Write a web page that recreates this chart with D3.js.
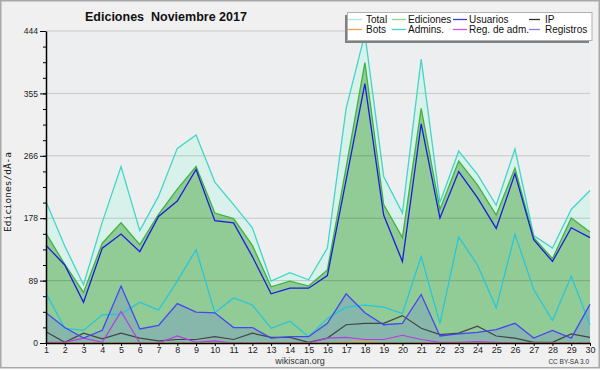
<!DOCTYPE html>
<html>
<head>
<meta charset="utf-8">
<script src="https://cdn.jsdelivr.net/npm/d3@7"></script>
<style>
  body { margin: 0; background: #fff; }
  svg { display: block; font-family: "Liberation Sans", Arial, sans-serif; }
</style>
</head>
<body>
<div id="chart"></div>
<script>
const days = d3.range(1, 31);
const total = [201, 138, 83, 172, 251, 160, 209, 277, 296, 229, 197, 164, 88, 100, 90, 135, 334, 440, 237, 185, 404, 200, 273, 240, 196, 276, 153, 135, 190, 217];
const ediciones = [156, 112, 72, 142, 171, 140, 183, 219, 251, 185, 177, 139, 80, 88, 81, 104, 250, 399, 197, 150, 334, 190, 259, 225, 182, 249, 150, 120, 178, 158];
const usuarios = [139, 111, 58, 135, 155, 130, 180, 202, 247, 174, 171, 123, 70, 78, 78, 96, 232, 369, 182, 116, 312, 178, 244, 207, 163, 241, 147, 116, 164, 150];
const ip = [16, 1, 14, 6, 14, 7, 3, 5, 5, 9, 5, 14, 8, 8, 1, 7, 26, 28, 28, 39, 21, 12, 14, 24, 10, 7, 1, 1, 13, 8];
const bots = [0, 0, 0, 0, 0, 0, 0, 0, 0, 0, 0, 0, 0, 0, 0, 0, 1, 2, 0, 0, 0, 0, 0, 0, 0, 0, 0, 0, 0, 0];
const admins = [71, 21, 18, 40, 41, 58, 47, 88, 133, 43, 64, 54, 21, 31, 9, 35, 51, 54, 51, 42, 123, 28, 151, 111, 50, 155, 76, 32, 95, 26];
const regAdm = [1, 1, 7, 1, 45, 0, 0, 10, 1, 3, 0, 0, 0, 0, 0, 7, 8, 5, 5, 11, 5, 1, 1, 2, 1, 0, 0, 0, 0, 0];
const registros = [43, 22, 7, 18, 81, 20, 25, 56, 44, 43, 22, 22, 7, 9, 9, 28, 70, 43, 26, 28, 69, 10, 13, 15, 19, 28, 7, 18, 7, 55];

const legendNames = ["Total", "Ediciones", "Usuarios", "IP", "Bots", "Admins.", "Reg. de adm.", "Registros"];
const legendColors = ["#a8e8e0", "#90d890", "#3a3ae0", "#303030", "#f0a040", "#40d0e0", "#d050e8", "#8080f0"];

const W = 600, H = 370;
const svg = d3.select("#chart").append("svg")
  .attr("width", W)
  .attr("height", H);

// frame
svg.append("rect")
  .attr("x", 0.75).attr("y", 0.75)
  .attr("width", W - 1.5).attr("height", 367)
  .attr("fill", "#f0f0f0")
  .attr("stroke", "#a8a8a8")
  .attr("stroke-width", 1.5);

const x = d3.scaleLinear().domain([1, 30]).range([46, 590]);
const y = d3.scaleLinear().domain([0, 444]).range([343, 31]);

// plot background
svg.append("rect")
  .attr("x", x(1)).attr("y", y(444))
  .attr("width", x(30) - x(1)).attr("height", y(0) - y(444))
  .attr("fill", "#edeef0");

const area = vals => d3.area()
  .x((d, i) => x(days[i]))
  .y0(y(0))
  .y1(d => y(d))(vals);
const line = vals => d3.line()
  .x((d, i) => x(days[i]))
  .y(d => y(d))(vals);

svg.append("path").attr("d", area(total)).attr("fill", "#d8f1ea");
svg.append("path").attr("d", area(ediciones)).attr("fill", "#91cb95");
svg.append("path").attr("d", area(registros)).attr("fill", "rgba(110,140,220,0.3)");

// grid lines
const majors = d3.range(0, 6).map(i => i * 444 / 5);
const minors = d3.range(0, 21).map(i => i * 444 / 20);
svg.append("g")
  .selectAll("line")
  .data(majors.slice(1))
  .join("line")
  .attr("x1", x(1)).attr("x2", x(30))
  .attr("y1", d => y(d)).attr("y2", d => y(d))
  .attr("stroke", "rgba(0,0,0,0.16)")
  .attr("stroke-width", 1);

const series = [
  [total, "#42d6c6", 1.3],
  [ediciones, "#3fb43f", 1.3],
  [admins, "#22c6e0", 1.2],
  [usuarios, "#1c1ce0", 1.3],
  [ip, "#454545", 1.2],
  [regAdm, "#b83ce0", 1.2],
  [registros, "#4646f2", 1.3],
  [bots, "#f0a030", 1.2]
];
series.forEach(([vals, color, w]) => {
  svg.append("path")
    .attr("d", line(vals))
    .attr("fill", "none")
    .attr("stroke", color)
    .attr("stroke-width", w)
    .attr("stroke-linejoin", "miter");
});

// y axis
svg.append("g")
  .attr("transform", `translate(${x(1)},0)`)
  .call(d3.axisLeft(y).tickValues(minors).tickSize(3).tickFormat(""))
  .call(g => g.select(".domain").remove())
  .call(g => g.selectAll(".tick line").attr("stroke", "#000"));

svg.append("g")
  .attr("transform", `translate(${x(1)},0)`)
  .call(d3.axisLeft(y).tickValues(majors).tickSize(6).tickSizeOuter(0).tickPadding(2)
    .tickFormat(d => Math.round(d)))
  .call(g => g.select(".domain").attr("stroke", "#000").attr("stroke-width", 1.5))
  .call(g => g.selectAll("text").attr("font-size", 8.5).attr("fill", "#222")
    .attr("font-family", "'Liberation Sans', Arial, sans-serif"));

// x axis
svg.append("g")
  .attr("transform", `translate(0,${y(0)})`)
  .call(d3.axisBottom(x).tickValues(days).tickSize(3).tickSizeOuter(0).tickPadding(1)
    .tickFormat(d => d))
  .call(g => g.select(".domain").attr("stroke", "#000").attr("stroke-width", 1.5))
  .call(g => g.selectAll("text").attr("font-size", 9).attr("fill", "#222")
    .attr("font-family", "'Liberation Sans', Arial, sans-serif"));

// title
svg.append("text")
  .attr("x", 85).attr("y", 21)
  .attr("font-size", 12.5)
  .attr("font-weight", "bold")
  .attr("fill", "#111")
  .style("white-space", "pre")
  .text("Ediciones  Noviembre 2017");

// y label
svg.append("text")
  .attr("transform", "translate(11,192) rotate(-90)")
  .attr("text-anchor", "middle")
  .attr("font-family", "'DejaVu Sans Mono', monospace")
  .attr("font-size", 9.5)
  .attr("fill", "#111")
  .text("Ediciones/dÃ-a");

svg.append("text")
  .attr("x", 300).attr("y", 364)
  .attr("text-anchor", "middle")
  .attr("font-size", 9)
  .attr("fill", "#333")
  .text("wikiscan.org");

svg.append("text")
  .attr("x", 589).attr("y", 364)
  .attr("text-anchor", "end")
  .attr("font-size", 6.5)
  .attr("fill", "#333")
  .text("CC BY-SA 3.0");

// legend
const lg = svg.append("g");
lg.append("rect")
  .attr("x", 345).attr("y", 15)
  .attr("width", 244).attr("height", 28)
  .attr("fill", "#808080");
lg.append("rect")
  .attr("x", 347.5).attr("y", 12.5)
  .attr("width", 244.5).attr("height", 28)
  .attr("fill", "#fff")
  .attr("stroke", "#b0b0b0");

const colX = [348, 392, 453, 529];
const swW = [14, 14, 14, 11];
const txtX = [366, 408, 469, 545];
legendNames.forEach((name, i) => {
  const c = i % 4, r = Math.floor(i / 4);
  const cy = 19.5 + r * 10;
  lg.append("line")
    .attr("x1", colX[c]).attr("x2", colX[c] + swW[c])
    .attr("y1", cy).attr("y2", cy)
    .attr("stroke", legendColors[i])
    .attr("stroke-width", 1.3);
  lg.append("text")
    .attr("x", txtX[c]).attr("y", cy + 3.6)
    .attr("font-size", 10)
    .attr("fill", "#111")
    .text(name);
});
</script>
</body>
</html>
